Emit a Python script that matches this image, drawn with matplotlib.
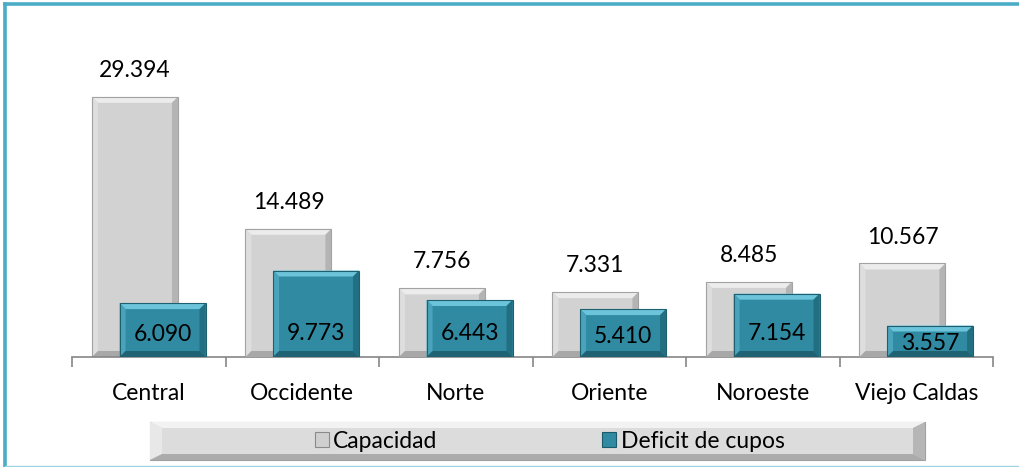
import matplotlib
matplotlib.use("Agg")
import matplotlib.pyplot as plt
import numpy as np
from matplotlib.patches import Polygon, Rectangle
from matplotlib.lines import Line2D

plt.rcParams['font.family'] = ['Lato', 'DejaVu Sans']

categorias = ['Central', 'Occidente', 'Norte', 'Oriente', 'Noroeste', 'Viejo Caldas']
capacidad = [29394, 14489, 7756, 7331, 8485, 10567]
deficit = [6090, 9773, 6443, 5410, 7154, 3557]
etiq_cap = ['29.394', '14.489', '7.756', '7.331', '8.485', '10.567']
etiq_def = ['6.090', '9.773', '6.443', '5.410', '7.154', '3.557']

# colores de las caras del bisel: cara, arriba, izquierda, derecha, abajo, borde
gris = ['#d2d2d2', '#ececec', '#dedede', '#b4b4b4', '#a8a8a8', '#a3a3a3']
azul = ['#2f8aa2', '#6cc4da', '#48a3bb', '#236f82', '#1e6273', '#1f6070']

fig = plt.figure(figsize=(10.19, 4.67), dpi=100)
ax = fig.add_axes([72 / 1019, 110 / 467, 921 / 1019, 327 / 467])
ax.set_xlim(-0.5, 5.5)
ax.set_ylim(0, 36950)


def bisel(ax, bar, col, b=6):
    # dibuja un bisel tipo Excel sobre la barra, b en pixeles
    x0, y0 = bar.get_x(), bar.get_y()
    x1, y1 = x0 + bar.get_width(), y0 + bar.get_height()
    p0 = ax.transData.transform((x0, y0))
    inv = ax.transData.inverted()
    bx = inv.transform((p0[0] + b, p0[1]))[0] - x0
    by = inv.transform((p0[0], p0[1] + b))[1] - y0
    by = min(by, (y1 - y0) / 3)
    z = bar.get_zorder() + 0.1
    caras = [
        ([(x0, y1), (x1, y1), (x1 - bx, y1 - by), (x0 + bx, y1 - by)], col[1]),
        ([(x0, y0), (x0, y1), (x0 + bx, y1 - by), (x0 + bx, y0 + by)], col[2]),
        ([(x1, y0), (x1, y1), (x1 - bx, y1 - by), (x1 - bx, y0 + by)], col[3]),
        ([(x0, y0), (x1, y0), (x1 - bx, y0 + by), (x0 + bx, y0 + by)], col[4]),
    ]
    for pts, c in caras:
        ax.add_patch(Polygon(pts, closed=True, facecolor=c, edgecolor='none', zorder=z))
    ax.add_patch(Rectangle((x0, y0), x1 - x0, y1 - y0, facecolor='none',
                           edgecolor=col[5], lw=0.8, zorder=z + 0.05))


x = np.arange(len(categorias))
w = 0.56
barras_cap = ax.bar(x - 0.09, capacidad, w, color=gris[0], zorder=2)
for i, bar in enumerate(barras_cap):
    bar.set_zorder(2 + 2 * i)
    bisel(ax, bar, gris)
barras_def = ax.bar(x + 0.09, deficit, w, color=azul[0], zorder=3)
for i, bar in enumerate(barras_def):
    bar.set_zorder(3 + 2 * i)
    bisel(ax, bar, azul)

for i in range(len(categorias)):
    ax.annotate(etiq_cap[i], (x[i] - 0.09, capacidad[i]), xytext=(0, 19),
                textcoords='offset points', ha='center', va='center', fontsize=16.5, color='black')
    yl = min(2600, deficit[i] * 0.42)
    ax.text(x[i] + 0.09, yl, etiq_def[i], ha='center', va='center', fontsize=16.5,
            color='black', zorder=30)

for s in ['top', 'right', 'left']:
    ax.spines[s].set_visible(False)
ax.spines['bottom'].set_color('#868686')
ax.spines['bottom'].set_linewidth(1.2)
ax.set_yticks([])
ax.set_xticks(np.arange(-0.5, 6, 1))
ax.set_xticklabels([])
ax.tick_params(axis='x', which='major', length=7, color='#868686', width=1.2)
ax.set_xticks(x, minor=True)
ax.set_xticklabels(categorias, minor=True, fontsize=16.5)
ax.tick_params(axis='x', which='minor', length=0, pad=19)

# recuadro de la leyenda
lx0, ly0, lx1, ly1 = 150 / 1019, 7 / 467, 925 / 1019, 45 / 467
fig.patches.append(Rectangle((lx0, ly0), lx1 - lx0, ly1 - ly0, transform=fig.transFigure,
                             facecolor='#dcdcdc', edgecolor='#a0a0a0', lw=0.8))
bx, by = 12 / 1019, 6 / 467
for pts, c in [
    ([(lx0, ly1), (lx1, ly1), (lx1 - bx, ly1 - by), (lx0 + bx, ly1 - by)], '#f2f2f2'),
    ([(lx0, ly0), (lx0, ly1), (lx0 + bx, ly1 - by), (lx0 + bx, ly0 + by)], '#e8e8e8'),
    ([(lx1, ly0), (lx1, ly1), (lx1 - bx, ly1 - by), (lx1 - bx, ly0 + by)], '#b6b6b6'),
    ([(lx0, ly0), (lx1, ly0), (lx1 - bx, ly0 + by), (lx0 + bx, ly0 + by)], '#ababab'),
]:
    fig.patches.append(Polygon(pts, closed=True, transform=fig.transFigure,
                               facecolor=c, edgecolor='none'))

h1 = Rectangle((0, 0), 1, 1, facecolor='#cfcfcf', edgecolor='#8a8a8a', lw=0.8)
h2 = Rectangle((0, 0), 1, 1, facecolor='#2f8aa2', edgecolor='#1b5a6a', lw=0.8)
fig.legend([h1, h2], ['Capacidad', 'Deficit de cupos'], loc='center',
           bbox_to_anchor=((lx0 + lx1) / 2 + 0.012, (ly0 + ly1) / 2), ncol=2, frameon=False,
           fontsize=16.5, handlelength=0.6, handleheight=0.6, handletextpad=0.2,
           columnspacing=7.2)

# marco exterior
fig.add_artist(Line2D([5 / 1019, 1], [1 - 3.5 / 467, 1 - 3.5 / 467], transform=fig.transFigure,
                      color='#4bacc6', lw=2.6))
fig.add_artist(Line2D([5 / 1019, 5 / 1019], [0, 1 - 3.5 / 467], transform=fig.transFigure,
                      color='#4bacc6', lw=2.6))
fig.add_artist(Line2D([5 / 1019, 1], [1 / 467, 1 / 467], transform=fig.transFigure,
                      color='#9dd3e3', lw=1.0))

fig.savefig('out.png', dpi=100)
